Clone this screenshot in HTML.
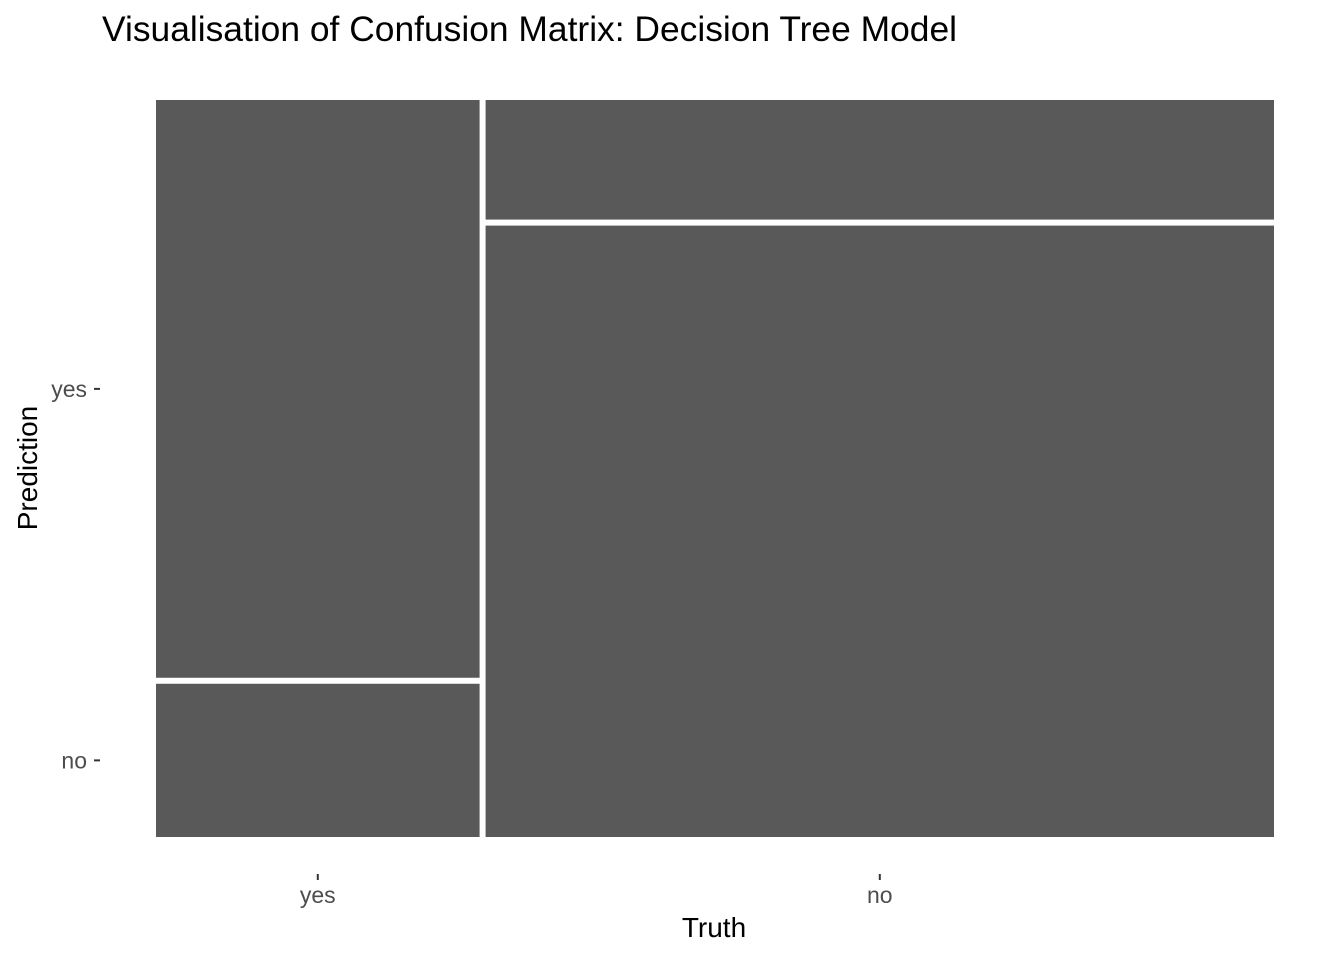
<!DOCTYPE html>
<html><head><meta charset="utf-8"><style>
body{margin:0;background:#fff;}
svg{display:block;font-family:"Liberation Sans",sans-serif;}
</style></head><body>
<svg id="chart" width="1344" height="960">
<text x="102" y="41" font-size="35" textLength="855" lengthAdjust="spacingAndGlyphs" fill="#000">Visualisation of Confusion Matrix: Decision Tree Model</text>
<text x="714" y="937" font-size="28" text-anchor="middle" fill="#000">Truth</text>
<text transform="translate(37,468) rotate(-90)" font-size="28" text-anchor="middle" fill="#000">Prediction</text>
<g id="tiles"></g>
<g id="axes"></g>
</svg>
<script>
const truthCats = ["yes","no"];
const predCats = ["yes","no"];
// counts[truth][pred]
const countsTruthYes = [230, 61];
const countsTruthNo = [116, 593];

const X0=156, X1=1274, Y0=100, Y1=837, GAP=6;
const ns="http://www.w3.org/2000/svg";
const tiles=document.getElementById('tiles'), axes=document.getElementById('axes');
const cols=[countsTruthYes,countsTruthNo];
const colTot=cols.map(c=>c.reduce((a,b)=>a+b,0));
const total=colTot.reduce((a,b)=>a+b,0);
const availW=(X1-X0)-GAP*(cols.length-1);
let x=X0;
const yTicks=[];
cols.forEach((c,ci)=>{
  const w=availW*colTot[ci]/total;
  const availH=(Y1-Y0)-GAP*(c.length-1);
  let y=Y0;
  c.forEach((v,pi)=>{
    const h=availH*v/colTot[ci];
    const r=document.createElementNS(ns,'rect');
    r.setAttribute('x',x);r.setAttribute('y',y);r.setAttribute('width',w);r.setAttribute('height',h);
    r.setAttribute('fill','#595959');
    
    
    tiles.appendChild(r);
    if(ci===0) yTicks.push(y+h/2);
    y+=h+GAP;
  });
  const cx=x+w/2;
  const t=document.createElementNS(ns,'line');
  t.setAttribute('x1',cx);t.setAttribute('x2',cx);t.setAttribute('y1',874);t.setAttribute('y2',880);
  t.setAttribute('stroke','#333');t.setAttribute('stroke-width','2');
  
  
  axes.appendChild(t);
  const l=document.createElementNS(ns,'text');
  l.setAttribute('x',cx);l.setAttribute('y',903);l.setAttribute('font-size','23');l.setAttribute('text-anchor','middle');l.setAttribute('fill','#4d4d4d');
  l.textContent=truthCats[ci];
  
  
  axes.appendChild(l);
  x+=w+GAP;
});
yTicks.forEach((cy,pi)=>{
  const t=document.createElementNS(ns,'line');
  t.setAttribute('x1',94);t.setAttribute('x2',100);t.setAttribute('y1',cy);t.setAttribute('y2',cy);
  t.setAttribute('stroke','#333');t.setAttribute('stroke-width','2');
  
  
  axes.appendChild(t);
  const l=document.createElementNS(ns,'text');
  l.setAttribute('x',87);l.setAttribute('y',cy+8);l.setAttribute('font-size','23');l.setAttribute('text-anchor','end');l.setAttribute('fill','#4d4d4d');
  l.textContent=predCats[pi];
  
  
  axes.appendChild(l);
});
</script>
</body></html>
